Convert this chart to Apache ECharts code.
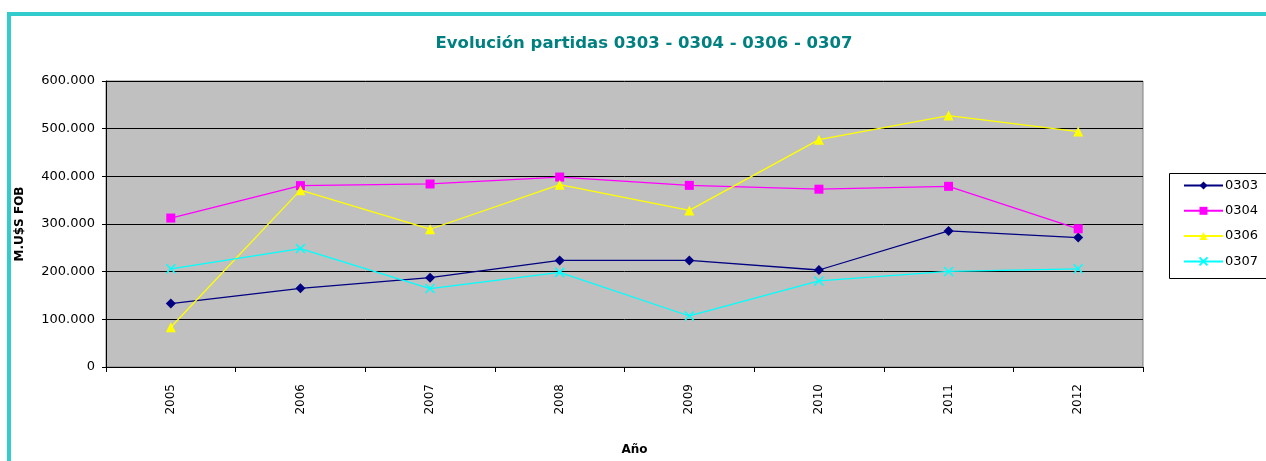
<!DOCTYPE html>
<html>
<head>
<meta charset="utf-8">
<script src="https://cdn.jsdelivr.net/npm/echarts@6/dist/echarts.min.js"></script>
<style>
  html, body { margin: 0; padding: 0; background: #fff; }
  #chart { width: 1266px; height: 461px; }
</style>
</head>
<body>
<div id="chart"></div>
<script>
// años (eje X)
var years = ['2005', '2006', '2007', '2008', '2009', '2010', '2011', '2012'];
// valores M.U$S FOB por partida
var p0303 = [133000, 165000, 187500, 223500, 223500, 203500, 285500, 271500];
var p0304 = [312500, 380500, 384000, 398500, 381000, 373000, 379000, 290000];
var p0306 = [83500, 371000, 289000, 382500, 328500, 477000, 527500, 494000];
var p0307 = [206000, 248500, 164500, 198500, 107000, 180500, 200500, 206000];
var yTicks = [0, 100000, 200000, 300000, 400000, 500000, 600000];

var font = 'DejaVu Sans, Arial, sans-serif';

// formato 600.000
function fmt(v) {
    return String(v).replace(/\B(?=(\d{3})+(?!\d))/g, '.');
}

function serie(name, data, color, symbol, size) {
    return {
        name: name,
        type: 'line',
        data: data,
        symbol: symbol,
        symbolSize: size,
        showAllSymbol: true,
        lineStyle: { color: color, width: 1.3 },
        itemStyle: { color: color, borderColor: color, borderWidth: symbol.indexOf('path') === 0 ? 1.5 : 0 },
        emphasis: { disabled: true },
        animation: false
    };
}

var chart = echarts.init(document.getElementById('chart'));
chart.setOption({
    backgroundColor: '#fff',
    animation: false,
    title: {
        text: 'Evolución partidas 0303 - 0304 - 0306 - 0307',
        left: 639,
        textAlign: 'center',
        top: 30,
        textStyle: { fontFamily: font, fontSize: 16.5, fontWeight: 'bold', color: '#008080' }
    },
    graphic: [
        // marco turquesa
        { type: 'rect', shape: { x: 9, y: 14, width: 1300, height: 500 },
          style: { fill: 'none', stroke: '#33CCCC', lineWidth: 4 }, z: 100 },
        // caja de leyenda
        { type: 'rect', shape: { x: 1169.5, y: 173.5, width: 120, height: 105 },
          style: { fill: '#fff', stroke: '#000', lineWidth: 1 }, z: 1 }
    ],
    legend: {
        orient: 'vertical',
        left: 1183,
        top: 179,
        padding: 0,
        itemWidth: 39,
        itemHeight: 10,
        itemGap: 12.3,
        z: 5,
        textStyle: { fontFamily: font, fontSize: 13, color: '#000', padding: [0, 0, 0, -3] },
        data: ['0303', '0304', '0306', '0307']
    },
    grid: {
        left: 106, right: 123, top: 81, bottom: 92,
        show: true, backgroundColor: '#C0C0C0', borderColor: '#808080', borderWidth: 1
    },
    xAxis: {
        type: 'category',
        data: years,
        boundaryGap: true,
        name: 'Año',
        nameLocation: 'middle',
        nameGap: 77,
        nameTextStyle: { fontFamily: font, fontSize: 12, fontWeight: 'bold', color: '#000', padding: [0, 0, 0, 20] },
        axisLine: { lineStyle: { color: '#000', width: 1 } },
        axisTick: { show: true, length: 5, interval: 0, lineStyle: { color: '#000' } },
        axisLabel: { rotate: 90, margin: 17, fontFamily: font, fontSize: 12, color: '#000', interval: 0 }
    },
    yAxis: {
        type: 'value',
        min: yTicks[0],
        max: yTicks[yTicks.length - 1],
        interval: yTicks[1] - yTicks[0],
        name: 'M.U$S FOB',
        nameLocation: 'middle',
        nameGap: 80,
        nameRotate: 90,
        nameTextStyle: { fontFamily: font, fontSize: 12, fontWeight: 'bold', color: '#000' },
        axisLine: { show: true, lineStyle: { color: '#000', width: 1 } },
        axisTick: { show: true, length: 4, lineStyle: { color: '#000' } },
        splitLine: { show: true, lineStyle: { color: '#000', width: 1 } },
        axisLabel: { formatter: fmt, margin: 11, fontFamily: font, fontSize: 13, color: '#000' }
    },
    series: [
        serie('0303', p0303, '#000080', 'diamond', 10),
        serie('0304', p0304, '#FF00FF', 'rect', 9),
        serie('0306', p0306, '#FFFF00', 'triangle', 10),
        serie('0307', p0307, '#00FFFF', 'path://M0,0L10,10M10,0L0,10', 9)
    ]
});
</script>
</body>
</html>
